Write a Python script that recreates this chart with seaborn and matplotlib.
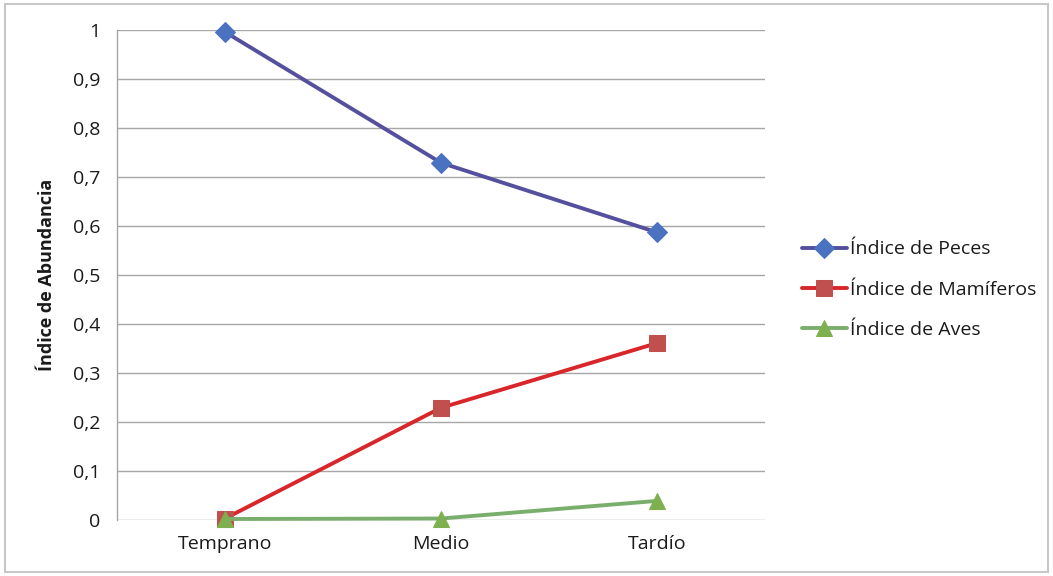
import matplotlib
matplotlib.use("Agg")
import matplotlib.pyplot as plt
import seaborn as sns
from matplotlib.patches import Rectangle
from matplotlib.ticker import FuncFormatter

# Data
periodos = ["Temprano", "Medio", "Tardío"]
indice_peces = [0.996, 0.729, 0.587]
indice_mamiferos = [0.003, 0.229, 0.361]
indice_aves = [0.002, 0.003, 0.039]
series_labels = ["Índice de Peces", "Índice de Mamíferos", "Índice de Aves"]

sns.set_theme(style="white")
plt.rcParams["font.family"] = ["Open Sans", "DejaVu Sans"]

fig = plt.figure(figsize=(10.53, 5.76), dpi=100)
ax = fig.add_axes([117 / 1053, 1 - 520 / 576, (765 - 117) / 1053, 490 / 576])

styles = [
    (indice_peces, "#55509e", "D", "#4a72c0", 10),
    (indice_mamiferos, "#d8262a", "s", "#c0504d", 11),
    (indice_aves, "#7aae6c", "^", "#7fb04f", 12),
]
for (vals, lc, mk, mc, ms), lab in zip(styles, series_labels):
    sns.lineplot(x=periodos, y=vals, ax=ax, color=lc, linewidth=2.8,
                 marker=mk, markersize=ms, markerfacecolor=mc,
                 markeredgecolor=mc, label=lab, sort=False, clip_on=False)

ax.set_xlim(-0.5, 2.5)
ax.set_ylim(0, 1)
ax.set_yticks([i / 10 for i in range(11)])
ax.yaxis.set_major_formatter(FuncFormatter(
    lambda v, p: "0" if abs(v) < 1e-9 else ("1" if abs(v - 1) < 1e-9 else f"{v:.1f}".replace(".", ","))))
ax.grid(axis="y", color="#a6a6a6", linewidth=1)
ax.set_axisbelow(True)
for s in ["top", "right", "bottom"]:
    ax.spines[s].set_visible(False)
ax.spines["left"].set_color("#a6a6a6")
ax.spines["left"].set_linewidth(1)
ax.tick_params(axis="both", length=0, labelsize=14, colors="#1a1a1a")
ax.tick_params(axis="y", pad=12)
ax.tick_params(axis="x", pad=11)
ax.set_xlabel("")
ax.set_ylabel("Índice de Abundancia", fontsize=13, fontweight="bold",
              color="#1a1a1a", labelpad=12)

leg = ax.legend(loc="center left", bbox_to_anchor=(1.03, 0.47), frameon=False,
                fontsize=14, handlelength=2.3, handletextpad=0.15,
                labelspacing=1.15, labelcolor="#1a1a1a")

fig.patches.append(Rectangle((5 / 1053, 4 / 576), 1043 / 1053, 568 / 576,
                             transform=fig.transFigure, fill=False,
                             edgecolor="#c8c8c8", linewidth=1.5))

fig.savefig("out.png", dpi=100)
